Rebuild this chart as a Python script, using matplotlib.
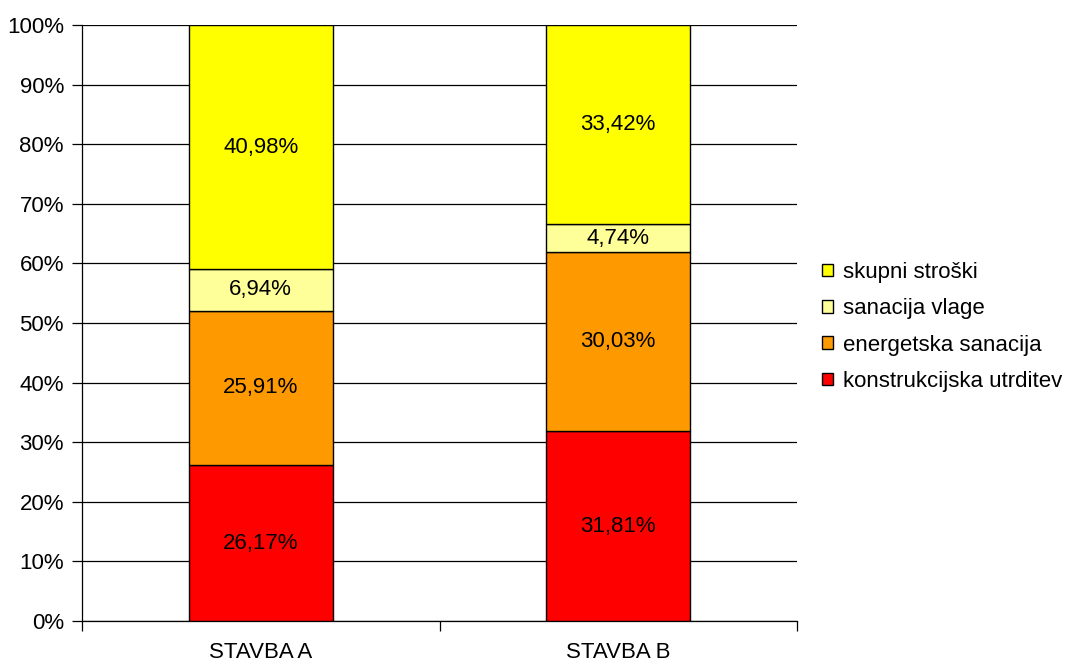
import matplotlib
matplotlib.use("Agg")
import matplotlib.pyplot as plt
from matplotlib.patches import Patch
import numpy as np

plt.rcParams['font.family'] = ['Liberation Sans', 'DejaVu Sans']

categories = ["STAVBA A", "STAVBA B"]
series_names = ["konstrukcijska utrditev", "energetska sanacija", "sanacija vlage", "skupni stroški"]
konstrukcijska = [26.17, 31.81]
energetska = [25.91, 30.03]
vlaga = [6.94, 4.74]
skupni = [40.98, 33.42]
series = [konstrukcijska, energetska, vlaga, skupni]
colors = ["#FF0000", "#FF9900", "#FFFF99", "#FFFF00"]
yticks = list(range(0, 101, 10))

FS = 16

fig = plt.figure(figsize=(10.73, 6.64), dpi=100)
ax = fig.add_axes([82/1073, 43/664, (797-82)/1073, (621-25)/664])

x = np.arange(len(categories)) + 0.5
bottom = np.zeros(len(categories))
for name, vals, c in zip(series_names, series, colors):
    vals = np.array(vals)
    ax.bar(x, vals, width=0.403, bottom=bottom, color=c, edgecolor="black", linewidth=1.0, zorder=3, label=name)
    for xi, b, v in zip(x, bottom, vals):
        ax.text(xi, b + v / 2, f"{v:.2f}%".replace(".", ","), ha="center", va="center", fontsize=FS, zorder=4)
    bottom += vals

ax.set_xlim(0, 2)
ax.set_ylim(0, 100)
ax.set_yticks(yticks)
ax.set_yticklabels([f"{t}%" for t in yticks], fontsize=FS)
ax.yaxis.grid(True, color="black", linewidth=0.9, zorder=0)
ax.set_xticks([0, 1, 2])
ax.set_xticklabels([])
ax.set_xticks(x, minor=True)
ax.set_xticklabels(categories, minor=True, fontsize=FS)
ax.tick_params(axis="x", which="minor", length=0, pad=15)
ax.tick_params(axis="x", which="major", length=7, width=0.9, direction="out")
ax.tick_params(axis="y", length=7, width=0.9, direction="out", pad=6)
for s in ["top", "right"]:
    ax.spines[s].set_visible(False)
for s in ["left", "bottom"]:
    ax.spines[s].set_linewidth(0.9)

handles = [Patch(facecolor=c, edgecolor="black", linewidth=1.0) for c in colors][::-1]
labels = series_names[::-1]
fig.legend(handles, labels, loc="center left", bbox_to_anchor=(802/1073, 1 - 327/664), frameon=False,
           fontsize=FS, handlelength=0.5, handleheight=0.5, handletextpad=0.45, labelspacing=0.69)

fig.savefig("out.png", dpi=100)
